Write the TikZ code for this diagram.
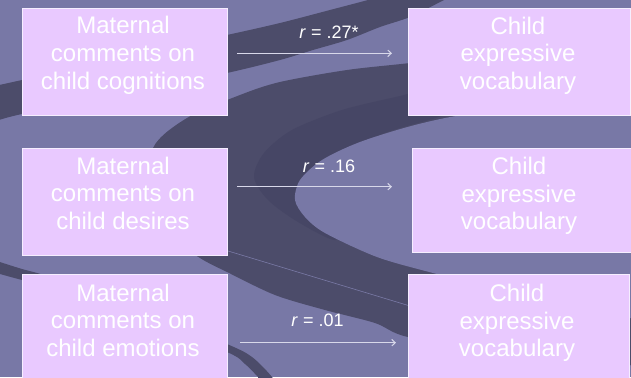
\documentclass[tikz,border=0pt]{standalone}
\usepackage{fontspec}
\setmainfont{Liberation Sans}
\usetikzlibrary{arrows.meta}
\definecolor{bgl}{HTML}{7878A6}
\definecolor{bgd}{HTML}{4C4C6A}
\definecolor{bgdd}{HTML}{464665}
\definecolor{boxfill}{HTML}{E9C9FF}
\definecolor{boxline}{HTML}{F6EEFF}
\definecolor{arrcol}{HTML}{D8D8EA}
\definecolor{thinl}{HTML}{7A7AA6}
\begin{document}
\begin{tikzpicture}[x=1pt,y=-1pt,
  pbox/.style={draw=boxline, line width=1pt, fill=boxfill, inner sep=0pt, anchor=north west},
  btext/.style={text=white, align=center, anchor=north, inner sep=0pt, font=\fontsize{24}{27.6}\selectfont},
  rlabel/.style={text=white, anchor=base, inner sep=0pt, font=\fontsize{18}{21.6}\selectfont},
  conn/.style={draw=arrcol, line width=1pt, -{Straight Barb[length=3.5pt,width=6.5pt]}}]
\useasboundingbox (0,0) rectangle (631,377);
\begin{scope}
\clip (0,0) rectangle (631,377);
\fill[bgl] (0,0) rectangle (631,377);
% upper band
\fill[bgd] plot[smooth] coordinates {(-10,87) (22,80) (120,58) (227,35) (280,23) (330,10) (375,-2) (390,-8)}
  -- (460,-8) -- plot[smooth] coordinates {(440,2) (410,17) (380,27) (347,40) (313,50) (280,60) (227,73) (120,96) (22,114) (-10,123)} -- cycle;
% big band
\fill[bgd] plot[smooth cycle] coordinates {(150,200) (153,148) (187,118) (240,95) (280,82) (347,70) (410,63) (500,52) (640,40) (660,200) (640,360) (500,350) (408,337) (375,323) (325,310) (275,295) (227,272) (200,258) (160,230)};
% darker crescent
\fill[bgdd] plot[smooth cycle] coordinates {(445,86) (400,96) (342,110) (292,130) (264,153) (254,177) (268,200) (298,222) (335,240) (330,215) (330,170) (380,135) (450,112)};
% light tongue
\fill[bgl] plot[smooth] coordinates {(640,104) (560,108) (470,114) (415,125) (360,142) (322,160) (300,180) (295,200) (305,217) (325,233) (377,257) (433,273) (520,295) (640,320)} -- cycle;
% thin line
\draw[thinl, line width=0.6pt] (195,241) -- (410,306);
% lower stripe
\fill[bgd] plot[smooth] coordinates {(-10,258) (0,262) (22,269) (50,277) (140,308) (227,344) (252,357) (272,377) (280,392)}
  -- (262,392) -- plot[smooth] coordinates {(258,377) (245,364) (227,352) (140,318) (50,287) (22,280) (0,274) (-10,271)} -- cycle;
\end{scope}
% boxes
\node[pbox, minimum width=205pt, minimum height=107pt] (L1) at (22,8) {};
\node[pbox, minimum width=205pt, minimum height=107pt] (L2) at (22,148) {};
\node[pbox, minimum width=205pt, minimum height=107pt] (L3) at (22,274) {};
\node[pbox, minimum width=222pt, minimum height=107pt] (R1) at (408,8) {};
\node[pbox, minimum width=226pt, minimum height=104pt] (R2) at (412,148) {};
\node[pbox, minimum width=221pt, minimum height=107pt] (R3) at (408,274) {};
% texts
\node[btext] (L1t) at (123,16.3) {Maternal\\comments on\\child cognitions};
\node[btext] (L2t) at (123,156.5) {Maternal\\comments on\\child desires};
\node[btext] (L3t) at (123,283.8) {Maternal\\comments on\\child emotions};
\node[btext] (R1t) at (518,16.8) {Child\\expressive\\vocabulary};
\node[btext] (R2t) at (519,157) {Child\\expressive\\vocabulary};
\node[btext] (R3t) at (517,284) {Child\\expressive\\vocabulary};
% connectors
\coordinate (a1s) at (237,53.3); \coordinate (a1e) at (392,53.3);
\coordinate (a2s) at (237,186.7); \coordinate (a2e) at (392,186.7);
\coordinate (a3s) at (240,342.7); \coordinate (a3e) at (396,342.7);
\draw[conn] (a1s) -- (a1e);
\draw[conn] (a2s) -- (a2e);
\draw[conn] (a3s) -- (a3e);
\node[rlabel] (r1) at (329,39) {\textit{r} = .27*};
\node[rlabel] (r2) at (329,172) {\textit{r} = .16};
\node[rlabel] (r3) at (317.5,326.7) {\textit{r} = .01};
\end{tikzpicture}
\end{document}
